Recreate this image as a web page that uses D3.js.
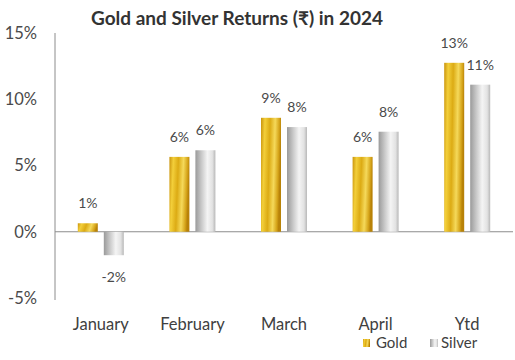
<!DOCTYPE html>
<html>
<head>
<meta charset="utf-8">
<script src="https://cdn.jsdelivr.net/npm/d3@7"></script>
<style>
  body { margin: 0; background: #fff; }
  text { font-family: Lato, "Open Sans", sans-serif; fill: #404040; }
</style>
</head>
<body>
<div id="chart"></div>
<script>
const categories = ['January', 'February', 'March', 'April', 'Ytd'];
const goldValues = [0.64, 5.65, 8.6, 5.65, 12.75];
const silverValues = [-1.77, 6.15, 7.9, 7.55, 11.1];
const goldLabels = ['1%', '6%', '9%', '6%', '13%'];
const silverLabels = ['-2%', '6%', '8%', '8%', '11%'];
const yTicks = [-5, 0, 5, 10, 15];

const width = 515, height = 360;
const margin = { top: 33, right: 2, bottom: 62, left: 55 };

const svg = d3.select('#chart').append('svg')
  .attr('width', width)
  .attr('height', height);

const defs = svg.append('defs');
const gold = defs.append('linearGradient').attr('id', 'gold')
  .attr('x1', 0).attr('x2', 1).attr('y1', 0).attr('y2', 0.15);
[[0, '#c9930c'], [0.2, '#f3cf3a'], [0.45, '#dcab14'], [0.7, '#f5d95a'], [0.9, '#d6a51a'], [1, '#b88208']]
  .forEach(s => gold.append('stop').attr('offset', s[0]).attr('stop-color', s[1]));
const silver = defs.append('linearGradient').attr('id', 'silver')
  .attr('x1', 0).attr('x2', 1).attr('y1', 0).attr('y2', 0);
[[0, '#9a9a9a'], [0.3, '#c8c8c8'], [0.6, '#f4f4f4'], [0.85, '#e2e2e2'], [1, '#b8b8b8']]
  .forEach(s => silver.append('stop').attr('offset', s[0]).attr('stop-color', s[1]));

const x = d3.scaleBand()
  .domain(categories)
  .range([margin.left, width - margin.right]);

const y = d3.scaleLinear()
  .domain([-5, 15])
  .range([298, margin.top]);

const barW = 20, gap = 6;

// title
svg.append('text')
  .attr('x', 237).attr('y', 25)
  .attr('text-anchor', 'middle')
  .style('font-size', '19px')
  .style('font-weight', 'bold')
  .style('fill', '#333')
  .text('Gold and Silver Returns (₹) in 2024');

// y axis
const yAxis = svg.append('g')
  .attr('transform', `translate(${margin.left},0)`)
  .call(d3.axisLeft(y).tickValues(yTicks).tickSize(0).tickPadding(18).tickFormat(d => d + '%'));
yAxis.select('.domain').attr('stroke', '#8c8c8c').attr('d', `M0,${y(15)}V${y(-5) + 2}`);
yAxis.selectAll('text').style('font-size', '16.5px').style('fill', '#4a4a4a');

// zero line
svg.append('line')
  .attr('x1', margin.left).attr('x2', width - margin.right)
  .attr('y1', y(0)).attr('y2', y(0))
  .attr('stroke', '#8c8c8c');

// category labels
svg.append('g').selectAll('text')
  .data(categories)
  .enter().append('text')
  .attr('x', d => x(d) + x.bandwidth() / 2)
  .attr('y', 330)
  .attr('text-anchor', 'middle')
  .style('font-size', '16.5px')
  .text(d => d);

const cx = d => x(d) + x.bandwidth() / 2;

// gold bars
svg.append('g').selectAll('rect')
  .data(categories)
  .enter().append('rect')
  .attr('x', d => cx(d) - gap / 2 - barW)
  .attr('y', (d, i) => y(Math.max(0, goldValues[i])))
  .attr('width', barW)
  .attr('height', (d, i) => Math.abs(y(goldValues[i]) - y(0)))
  .attr('fill', 'url(#gold)');

// silver bars
svg.append('g').selectAll('rect')
  .data(categories)
  .enter().append('rect')
  .attr('x', d => cx(d) + gap / 2)
  .attr('y', (d, i) => y(Math.max(0, silverValues[i])))
  .attr('width', barW)
  .attr('height', (d, i) => Math.abs(y(silverValues[i]) - y(0)))
  .attr('fill', 'url(#silver)');

// data labels
const labelY = v => v >= 0 ? y(v) - 15 : y(v) + 27;
svg.append('g').selectAll('text')
  .data(categories)
  .enter().append('text')
  .attr('x', d => cx(d) - gap / 2 - barW / 2)
  .attr('y', (d, i) => labelY(goldValues[i]))
  .attr('text-anchor', 'middle')
  .style('font-size', '14px')
  .style('fill', '#4a4a4a')
  .text((d, i) => goldLabels[i]);

svg.append('g').selectAll('text')
  .data(categories)
  .enter().append('text')
  .attr('x', d => cx(d) + gap / 2 + barW / 2)
  .attr('y', (d, i) => labelY(silverValues[i]))
  .attr('text-anchor', 'middle')
  .style('font-size', '14px')
  .style('fill', '#4a4a4a')
  .text((d, i) => silverLabels[i]);

// legend
const legend = svg.append('g');
legend.append('rect').attr('x', 363).attr('y', 339).attr('width', 7).attr('height', 8).attr('fill', 'url(#gold)');
legend.append('text').attr('x', 376).attr('y', 348).style('font-size', '15px').text('Gold');
legend.append('rect').attr('x', 430).attr('y', 339).attr('width', 8).attr('height', 8).attr('fill', 'url(#silver)');
legend.append('text').attr('x', 441).attr('y', 348).style('font-size', '15px').text('Silver');
</script>
</body>
</html>
